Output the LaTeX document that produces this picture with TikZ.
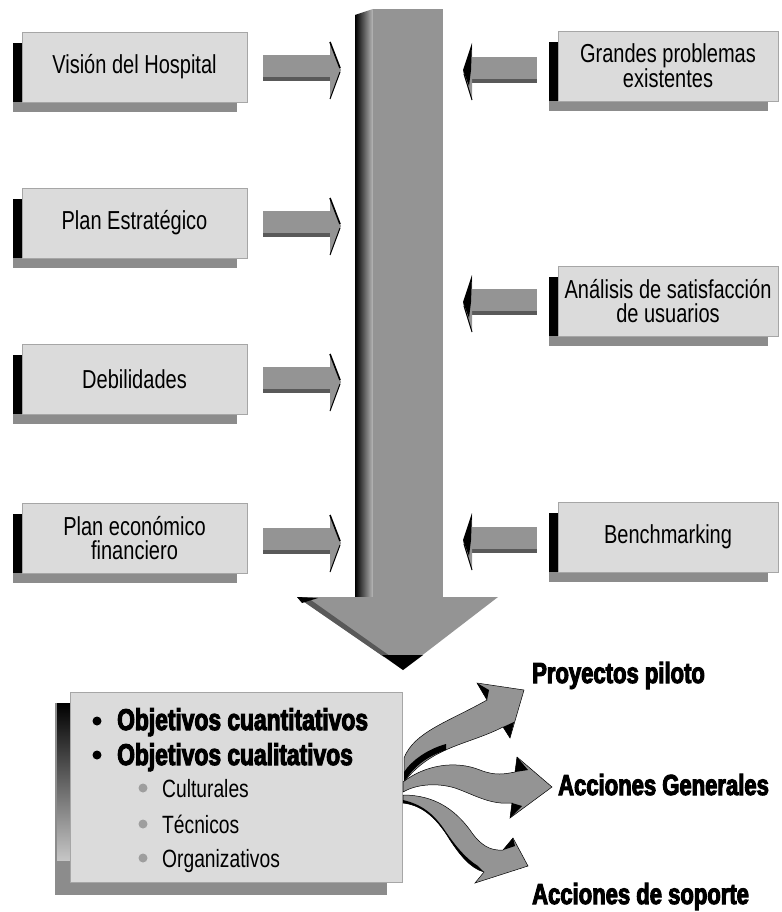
\documentclass[tikz,border=0pt]{standalone}
\usepackage{fontspec}
\setmainfont{Liberation Sans}
\newfontfamily\cond[FakeStretch=0.77]{Liberation Sans}
\newfontfamily\heavy[FakeStretch=0.76,BoldFeatures={FakeBold=3.5}]{Liberation Sans}
\usetikzlibrary{calc,backgrounds}
\definecolor{boxgray}{gray}{0.86}
\definecolor{shgray}{gray}{0.55}
\definecolor{agray}{gray}{0.58}
\definecolor{adark}{gray}{0.35}
\definecolor{dotgray}{gray}{0.62}
\newcommand\ShadowBox[1]{%
  \begin{scope}[on background layer]
    \fill[shgray] ($(#1.north west)+(-9,11)$) rectangle ($(#1.south east)+(-10,10)$);
    \fill[black] ($(#1.north west)+(-9,11)$) rectangle (#1.south west);
  \end{scope}}
\tikzset{
  basebox/.style={fill=boxgray, draw=gray!70, line width=0.6pt, minimum height=70pt,
    align=center, inner sep=0pt, font=\cond\fontsize{26}{24}\selectfont},
  lbox/.style={basebox, minimum width=225pt},
  rbox/.style={basebox, minimum width=220pt},
  boldlabel/.style={anchor=base west, inner sep=0pt, font=\heavy\bfseries\fontsize{29}{29}\selectfont},
  objlabel/.style={anchor=base west, inner sep=0pt, font=\heavy\bfseries\fontsize{30}{30}\selectfont},
  sublabel/.style={anchor=base west, inner sep=0pt, font=\cond\fontsize{25}{25}\selectfont},
  rarrow/.pic={
    \fill[agray] (0,-13) rectangle (70,13);
    \fill[adark] (0,9) rectangle (70,13);
    \fill[agray] (67,-26) -- (78,2) -- (67,31) -- cycle;
    \draw[line width=1.6pt] (67,-26) -- (77,0);
    \draw[line width=1pt] (77,4) -- (67,31);
  },
  larrow/.pic={
    \fill[agray] (0,-13) rectangle (-65,13);
    \fill[adark] (0,9) rectangle (-65,13);
    \fill[agray] (-65,-27) -- (-74,2) -- (-65,30) -- cycle;
    \fill[black] (-65,-27) -- (-74,0) -- (-68,16) -- (-66,0) -- cycle;
    \draw[line width=1pt] (-73,4) -- (-65,30);
  }
}
\begin{document}
\begin{tikzpicture}[x=1pt,y=-1pt]
\useasboundingbox (0,0) rectangle (781,912);

% big vertical arrow
\shade[left color=black, right color=gray!55] (355,15) -- (373,9) -- (373,597) -- (355,597) -- cycle;
\fill[agray] (373,9) rectangle (443,597);
\fill[agray] (297,597) -- (498,597) -- (403,670) -- cycle;
\fill[adark] (297,597) -- (308,598) -- (390,656) -- (384,657) -- cycle;
\fill[black] (297,597) -- (318,598) -- (302,603) -- cycle;
\fill[black] (382,655) -- (423,655) -- (403,670) -- cycle;

% small arrows (left side, pointing right)
\pic at (263,68) {rarrow};
\pic at (263,224) {rarrow};
\pic at (263,380) {rarrow};
\pic at (263,541) {rarrow};
% small arrows (right side, pointing left)
\pic at (537,70) {larrow};
\pic at (537,302) {larrow};
\pic at (537,540) {larrow};

% left boxes
\node[lbox] (vision) at (134.5,67) {Visión del Hospital};
\ShadowBox{vision}
\node[lbox] (plan) at (134.5,223) {Plan Estratégico};
\ShadowBox{plan}
\node[lbox] (debil) at (134.5,379) {Debilidades};
\ShadowBox{debil}
\node[lbox] (econ) at (134.5,538) {Plan económico\\financiero};
\ShadowBox{econ}

% right boxes
\node[rbox] (grandes) at (668,66) {Grandes problemas\\existentes};
\ShadowBox{grandes}
\node[rbox] (analisis) at (668,301) {Análisis de satisfacción\\de usuarios};
\ShadowBox{analisis}
\node[rbox] (bench) at (668,537) {Benchmarking};
\ShadowBox{bench}

% objectives box
\fill[shgray] (55,703) rectangle (387,895);
\shade[top color=black, bottom color=gray!45] (57,703) rectangle (70,860);
\node[fill=boxgray, draw=gray!70, line width=0.6pt, minimum width=332pt, minimum height=190pt, inner sep=0pt] (obj) at (236,787) {};

\fill (97,721) circle (4.5);
\node[objlabel] (q1) at (117,730) {Objetivos cuantitativos};
\fill (97,755) circle (4.5);
\node[objlabel] (q2) at (117,765) {Objetivos cualitativos};
\fill[dotgray] (143,788) circle (4.5);
\node[sublabel] (c1) at (162,797) {Culturales};
\fill[dotgray] (143,824) circle (4.5);
\node[sublabel] (c2) at (162,833) {Técnicos};
\fill[dotgray] (143,858) circle (4.5);
\node[sublabel] (c3) at (162,867) {Organizativos};

% curvy 3D arrows
% top
\fill[agray, draw=black, line width=0.5pt] (404,758) .. controls (414,732) and (448,722) .. (487,700)
  -- (477,683) -- (524,690) -- (510,738) -- (503,727)
  .. controls (468,745) and (432,746) .. (404,782) -- cycle;
\fill[black] (404,782) .. controls (414,766) and (428,756) .. (446,750) -- (446,744)
  .. controls (428,749) and (412,760) .. (404,772) -- cycle;
\fill[black] (477,683) -- (487,700) -- (489,690) -- cycle;
\fill[black] (503,727) -- (510,738) -- (514,722) -- cycle;
% middle
\fill[agray, draw=black, line width=0.5pt] (403,782) .. controls (425,765) and (455,760) .. (480,770)
  .. controls (495,776) and (505,774) .. (515,772)
  -- (517,757) -- (552,787) -- (510,818) -- (512,803)
  .. controls (490,805) and (475,795) .. (455,788)
  .. controls (435,782) and (415,785) .. (403,792) -- cycle;
\fill[black] (517,757) -- (515,772) -- (528,770) -- cycle;
\fill[black] (510,818) -- (512,803) -- (522,806) -- cycle;
% bottom
\fill[agray, draw=black, line width=0.5pt] (403,795) .. controls (435,795) and (455,810) .. (470,830)
  .. controls (480,845) and (490,851) .. (503,850)
  -- (513,838) -- (528,866) -- (475,883) -- (484,872)
  .. controls (470,868) and (460,855) .. (450,840)
  .. controls (435,815) and (420,805) .. (403,803) -- cycle;
\fill[black] (403,803) .. controls (420,805) and (435,815) .. (450,840)
  .. controls (460,855) and (470,868) .. (484,872) -- (478,866)
  .. controls (465,858) and (455,845) .. (446,832)
  .. controls (433,812) and (420,804) .. (403,800) -- cycle;
\fill[black] (513,838) -- (503,850) -- (515,846) -- cycle;

% result labels
\node[boldlabel] (pp) at (532,683) {Proyectos piloto};
\node[boldlabel] (ag) at (558,795) {Acciones Generales};
\node[boldlabel] (as) at (532,904) {Acciones de soporte};
\end{tikzpicture}
\end{document}
